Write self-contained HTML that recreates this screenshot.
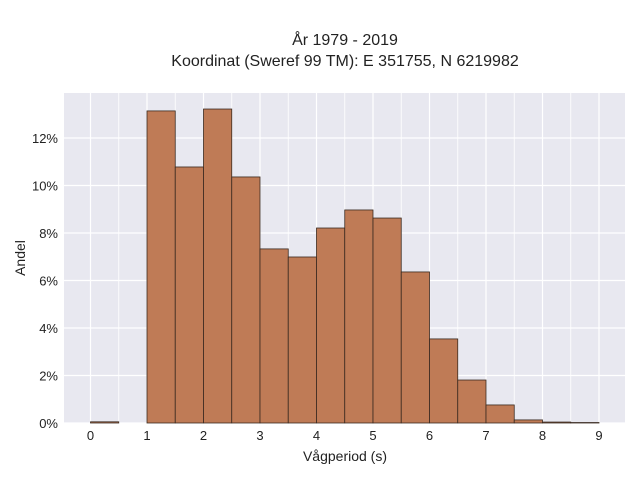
<!DOCTYPE html>
<html><head><meta charset="utf-8"><style>
body{margin:0;background:#fff;font-family:"Liberation Sans",sans-serif}
svg text{font-family:"Liberation Sans",sans-serif;fill:#222}
</style></head><body>
<svg width="640" height="480">
<text x="345" y="45" text-anchor="middle" font-size="16">År 1979 - 2019</text>
<text x="345" y="66" text-anchor="middle" font-size="16">Koordinat (Sweref 99 TM): E 351755, N 6219982</text>
<rect x="64" y="93" width="561" height="330" fill="#e8e8f0"/>
<g id="grid"></g><g id="bars"></g><g id="ticks"></g>
<text x="345" y="461" text-anchor="middle" font-size="14">Vågperiod (s)</text>
<text transform="translate(25,258) rotate(-90)" text-anchor="middle" font-size="14">Andel</text>
</svg>
<script>
const binStarts=[0,0.5,1,1.5,2,2.5,3,3.5,4,4.5,5,5.5,6,6.5,7,7.5,8,8.5];
const shares=[0.05,0,13.14,10.78,13.22,10.36,7.33,6.99,8.21,8.97,8.63,6.36,3.54,1.81,0.76,0.13,0.04,0.02];
const binWidth=0.5;
const xTicks=[0,1,2,3,4,5,6,7,8,9];
const yTicks=[0,2,4,6,8,10,12];
const NS="http://www.w3.org/2000/svg";
const X=v=>90.5+v*(599-90.5)/9, Y=v=>423-v*(423-138)/12;
const grid=document.getElementById('grid'),bars=document.getElementById('bars'),ticks=document.getElementById('ticks');
function mk(p,t,a){const e=document.createElementNS(NS,t);for(const k in a)e.setAttribute(k,a[k]);p.appendChild(e);return e;}
for(let v=0;v<=9;v+=0.5){const l=mk(grid,'line',{x1:X(v),x2:X(v),y1:93,y2:423,stroke:'#fff','stroke-width':v%1?0.8:1.2});

}
yTicks.forEach(v=>{const l=mk(grid,'line',{x1:64,x2:625,y1:Y(v),y2:Y(v),stroke:'#fff','stroke-width':1.2});


const t=mk(ticks,'text',{x:58,y:Y(v)+5,'text-anchor':'end','font-size':13});t.textContent=v+'%';

});
xTicks.forEach(v=>{const t=mk(ticks,'text',{x:X(v),y:440,'text-anchor':'middle','font-size':13});t.textContent=v;

});
binStarts.forEach((s,i)=>{if(shares[i]<=0)return;const r=mk(bars,'rect',{x:X(s),y:Y(shares[i]),width:X(s+binWidth)-X(s),height:Y(0)-Y(shares[i]),fill:'#bf7b56',stroke:'#3a2a20','stroke-width':0.8});

});
</script>
</body></html>
